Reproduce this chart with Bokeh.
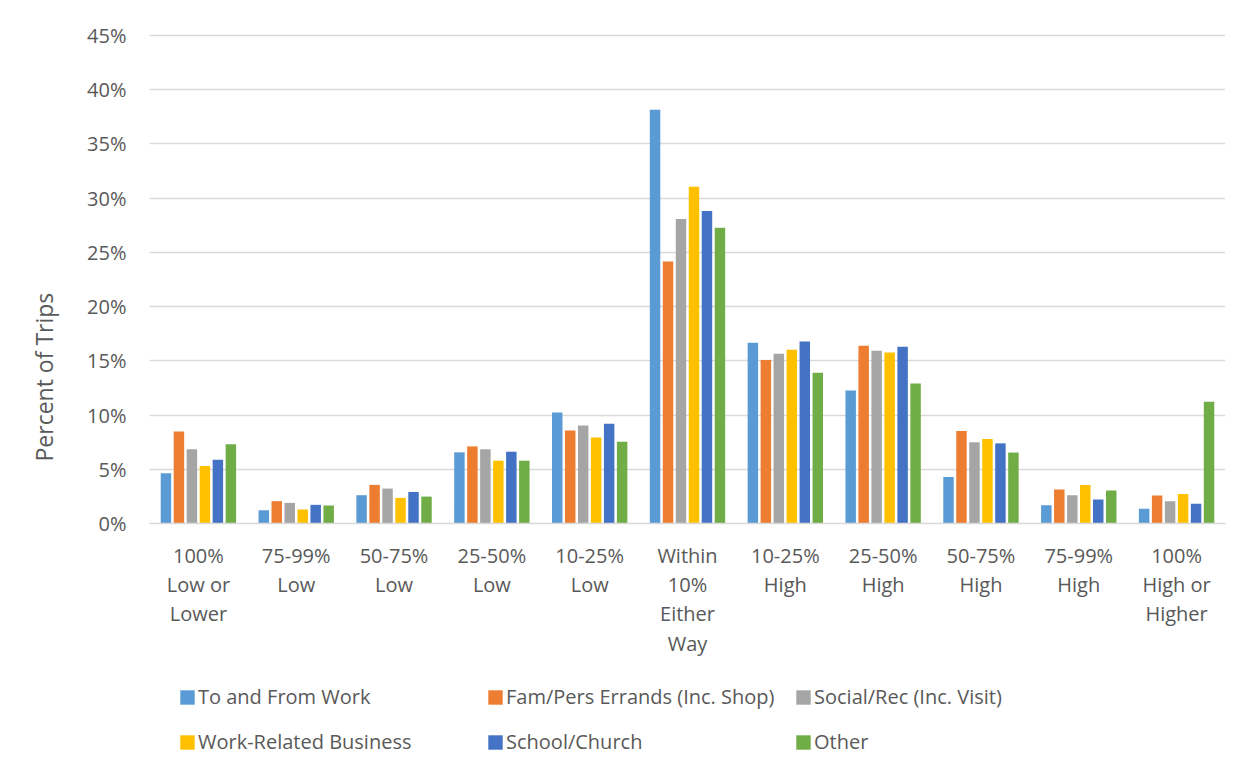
from bokeh.plotting import figure
from bokeh.layouts import column
from bokeh.models import (ColumnDataSource, FactorRange, Range1d, Legend, LegendItem,
                          Title, PrintfTickFormatter, FixedTicker)
from bokeh.transform import dodge
from bokeh.embed import file_html
from bokeh.resources import INLINE

# ---------------- data ----------------
categories = ["100%\nLow or\nLower", "75-99%\nLow", "50-75%\nLow", "25-50%\nLow",
              "10-25%\nLow", "Within\n10%\nEither\nWay", "10-25%\nHigh", "25-50%\nHigh",
              "50-75%\nHigh", "75-99%\nHigh", "100%\nHigh or\nHigher"]

series_names = ["To and From Work", "Fam/Pers Errands (Inc. Shop)", "Social/Rec (Inc. Visit)",
                "Work-Related Business", "School/Church", "Other"]

to_from_work = [4.63, 1.23, 2.61, 6.56, 10.24, 38.15, 16.67, 12.27, 4.29, 1.69, 1.35]
fam_pers_errands = [8.49, 2.06, 3.56, 7.11, 8.58, 24.15, 15.07, 16.39, 8.53, 3.13, 2.58]
social_rec = [6.84, 1.90, 3.22, 6.84, 9.04, 28.08, 15.65, 15.93, 7.49, 2.60, 2.05]
work_related = [5.30, 1.29, 2.36, 5.79, 7.94, 31.06, 16.02, 15.77, 7.79, 3.56, 2.73]
school_church = [5.88, 1.72, 2.91, 6.62, 9.19, 28.82, 16.79, 16.30, 7.39, 2.21, 1.81]
other = [7.30, 1.66, 2.48, 5.79, 7.54, 27.28, 13.90, 12.92, 6.54, 3.04, 11.23]

y_ticks = [0, 5, 10, 15, 20, 25, 30, 35, 40, 45]
y_label = "Percent of Trips"

colors = ["#5B9BD5", "#ED7D31", "#A5A5A5", "#FFC000", "#4472C4", "#70AD47"]
series_values = [to_from_work, fam_pers_errands, social_rec, work_related, school_church, other]
keys = ["s0", "s1", "s2", "s3", "s4", "s5"]

data = {"cat": categories}
for k, v in zip(keys, series_values):
    data[k] = v
source = ColumnDataSource(data)

pitch = 0.1327
bw = 0.107

# ---------------- main chart ----------------
W, H1, H2 = 1232, 670, 88
p = figure(x_range=FactorRange(*categories), y_range=Range1d(0, 45.18),
           width=W, height=H1, output_backend="svg", toolbar_location=None,
           min_border_left=147, min_border_right=7, min_border_top=33, min_border_bottom=147)
p.x_range.range_padding = 0
p.outline_line_color = None
p.background_fill_color = "white"
p.border_fill_color = "white"

for i, (k, c) in enumerate(zip(keys, colors)):
    off = (i - 2.5) * pitch
    p.vbar(x=dodge("cat", off, range=p.x_range), top=k, width=bw, source=source,
           fill_color=c, line_color=None)

p.xgrid.grid_line_color = None
p.ygrid.grid_line_color = "#D9D9D9"
p.ygrid.grid_line_width = 1.5
p.yaxis.ticker = FixedTicker(ticks=y_ticks)

p.yaxis.formatter = PrintfTickFormatter(format="%d%%")
p.yaxis.axis_line_color = None
p.yaxis.major_tick_line_color = None
p.yaxis.minor_tick_line_color = None
p.yaxis.major_tick_out = 0
p.yaxis.major_label_standoff = 23
p.yaxis.major_label_text_font = "Open Sans"
p.yaxis.major_label_text_font_size = "20px"
p.yaxis.major_label_text_color = "#595959"

p.xaxis.axis_line_color = "#D9D9D9"
p.xaxis.axis_line_width = 1.5
p.xaxis.major_tick_line_color = None
p.xaxis.major_tick_out = 0
p.xaxis.major_tick_in = 0
p.xaxis.major_label_standoff = 18
p.xaxis.major_label_text_font = "Open Sans"
p.xaxis.major_label_text_font_size = "20px"
p.xaxis.major_label_text_color = "#595959"
p.xaxis.major_label_text_line_height = 1.09
p.xaxis.major_label_orientation = "horizontal"

# y axis title, placed off-centre like the reference
p.add_layout(Title(text=y_label, align="left", offset=62, standoff=50,
                   text_font="Open Sans", text_font_size="23px", text_font_style="normal",
                   text_color="#595959"), "left")

# ---------------- legend strip (same series, drawn outside its visible range) ----------------
q = figure(x_range=FactorRange(*categories), y_range=Range1d(100000, 100001),
           width=W, height=H2, output_backend="svg", toolbar_location=None,
           x_axis_location=None, y_axis_location=None,
           min_border_left=0, min_border_right=0, min_border_top=0, min_border_bottom=0)
q.outline_line_color = None
q.xgrid.grid_line_color = None
q.ygrid.grid_line_color = None
swatches = []
for i, (k, c) in enumerate(zip(keys, colors)):
    off = (i - 2.5) * pitch
    swatches.append(q.vbar(x=dodge("cat", off, range=q.x_range), top=k, width=bw,
                           source=source, fill_color=c, line_color=None))

items = [LegendItem(label=n, renderers=[r]) for n, r in zip(series_names, swatches)]
legend = Legend(items=items, location=(29, 3), orientation="horizontal", ncols=3,
                glyph_width=18, glyph_height=18, label_height=18, label_standoff=2,
                label_width=270, spacing=18, padding=0, margin=0,
                border_line_color=None, background_fill_alpha=0,
                label_text_font="Open Sans", label_text_font_size="20px",
                label_text_color="#595959")
q.add_layout(legend)

layout = column(p, q, spacing=0)
open("out.html", "w").write(file_html(layout, INLINE))
